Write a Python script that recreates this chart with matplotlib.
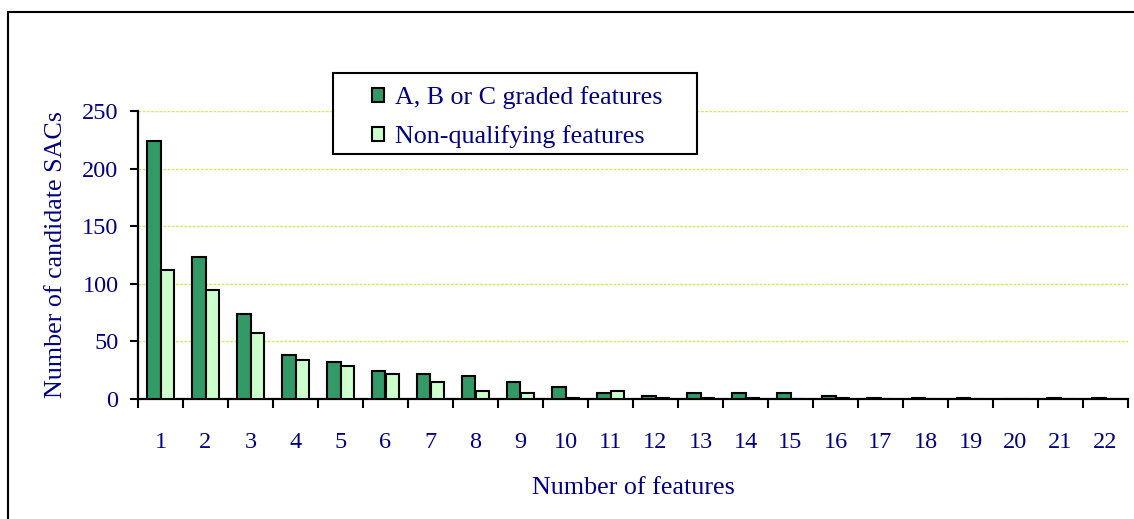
import matplotlib
matplotlib.use("Agg")
import matplotlib.pyplot as plt
from matplotlib.patches import Rectangle, Patch
import numpy as np

categories = [str(i) for i in range(1, 23)]
graded = [224, 123, 74, 38, 32, 24, 22, 20, 15, 10, 5, 3, 5, 5, 5, 3, 1, 1, 1, 0, 1, 1]
nonqual = [112, 95, 57, 34, 29, 22, 15, 7, 5, 1, 7, 1, 1, 1, 0, 1, 0, 0, 0, 0, 0, 0]
series_labels = ["A, B or C graded features", "Non-qualifying features"]
yticks = [0, 50, 100, 150, 200, 250]

NAVY = "#000080"
DARK = "#339966"
LIGHT = "#CCFFCC"
GRID = "#D0EE5C"

plt.rcParams['font.family'] = ['Liberation Serif', 'DejaVu Serif']

W, H = 1134, 519
fig = plt.figure(figsize=(W / 100, H / 100), dpi=100)
ax = fig.add_axes([138 / W, 1 - 399 / H, (1128 - 138) / W, (399 - 111) / H])

x = np.arange(len(categories))
bw = 0.31
ax.bar(x - bw / 2, graded, width=bw, color=DARK, edgecolor="black", linewidth=1.5, zorder=3)
ax.bar(x + bw / 2, nonqual, width=bw, color=LIGHT, edgecolor="black", linewidth=1.5, zorder=3)

ax.set_xlim(-0.5, len(categories) - 0.5)
ax.set_ylim(0, 250)
ax.set_yticks(yticks)
ax.set_yticklabels([str(v) for v in yticks])
ax.set_xticks(x)
ax.set_xticklabels(categories)
ax.set_xticks(np.arange(-0.5, len(categories), 1.0), minor=True)

for v in yticks[1:]:
    ax.axhline(v, color=GRID, linewidth=1.0, linestyle=(0, (2, 1)), zorder=1)

for s in ["top", "right"]:
    ax.spines[s].set_visible(False)
for s in ["left", "bottom"]:
    ax.spines[s].set_linewidth(1.6)
    ax.spines[s].set_color("black")

ax.tick_params(axis="y", which="major", direction="out", length=6, width=1.5,
               labelsize=17.5, labelcolor=NAVY, pad=8)
ax.tick_params(axis="x", which="major", length=0, labelsize=17.5, labelcolor=NAVY, pad=24)
ax.tick_params(axis="x", which="minor", direction="out", length=6.5, width=1.5)

ax.set_xlabel("Number of features", fontsize=18.7, color=NAVY, labelpad=17)
ax.set_ylabel("Number of candidate SACs", fontsize=18.7, color=NAVY, labelpad=11)

# legend
handles = [Patch(facecolor=DARK, edgecolor="black", linewidth=1.5),
           Patch(facecolor=LIGHT, edgecolor="black", linewidth=1.5)]
leg = fig.legend(handles, series_labels, loc="upper left",
                 bbox_to_anchor=(372 / W, 1 - 86 / H), frameon=False,
                 fontsize=18.7, handlelength=0.45, handleheight=0.45,
                 handletextpad=0.45, labelspacing=0.62, borderpad=0, borderaxespad=0)
for t in leg.get_texts():
    t.set_color(NAVY)

fig.patches.append(Rectangle((333 / W, 1 - 154 / H), (697 - 333) / W, (154 - 73) / H,
                             transform=fig.transFigure, facecolor="white",
                             edgecolor="black", linewidth=1.5, zorder=0))
fig.patches.append(Rectangle((8 / W, -0.05), 1.1, 1.05 - 12 / H,
                             transform=fig.transFigure, facecolor="none",
                             edgecolor="black", linewidth=1.5, clip_on=False))

fig.savefig("out.png", dpi=100)
